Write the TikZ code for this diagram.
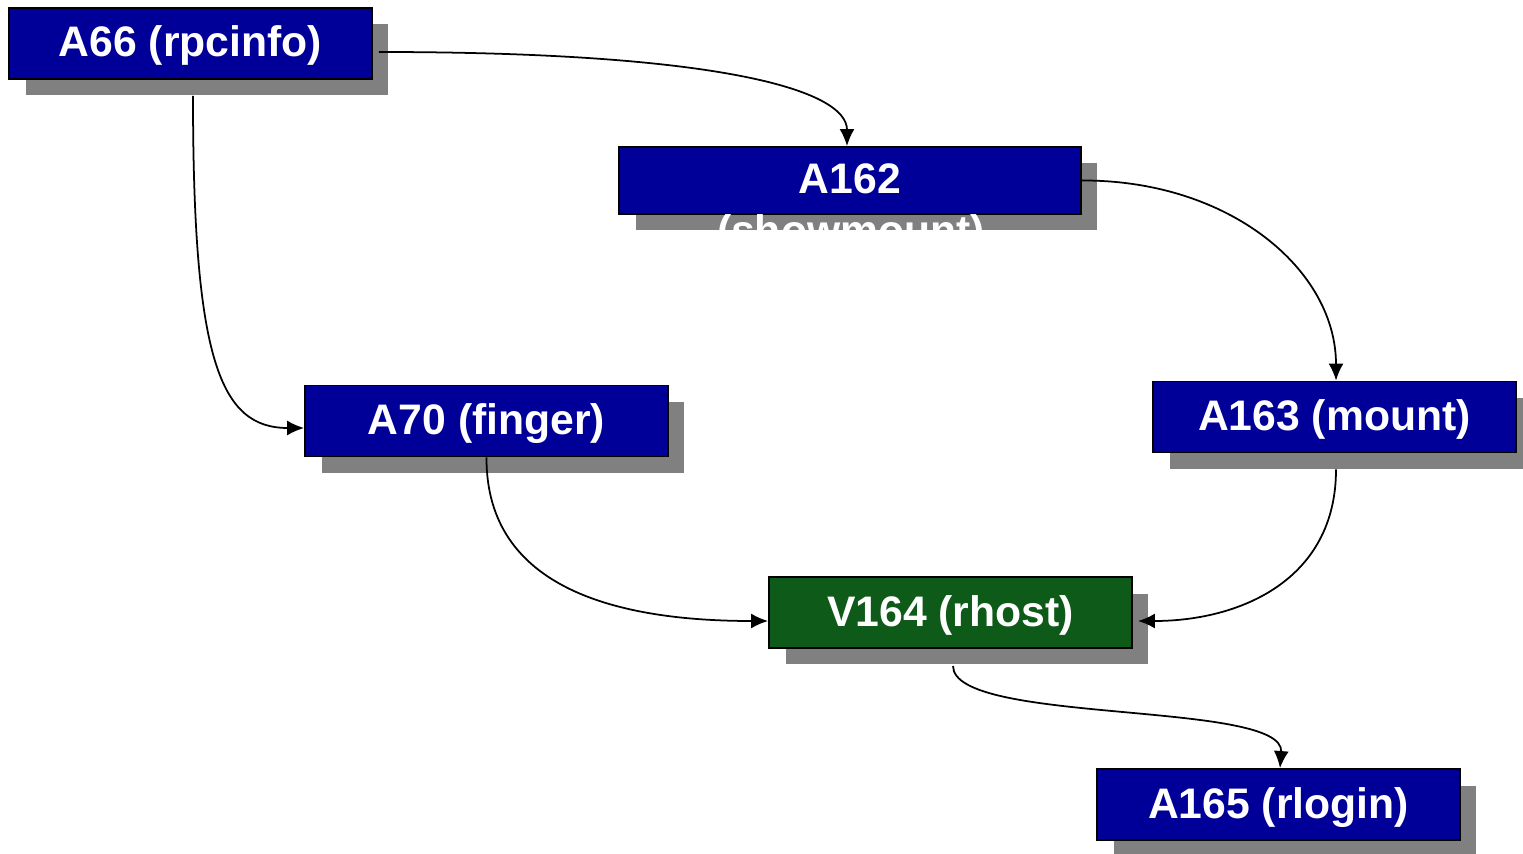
\documentclass[tikz,border=0pt]{standalone}
\usepackage{fontspec}
\setmainfont{Liberation Sans}
\usetikzlibrary{shadows,arrows.meta}
\definecolor{nodeblue}{HTML}{000099}
\definecolor{nodegreen}{HTML}{0E5A18}
\definecolor{shadowgray}{HTML}{808080}
\tikzset{
  box/.style={draw=black, line width=1.1pt, fill=nodeblue, text=white,
    font=\fontsize{24.3}{28}\selectfont\bfseries,
    minimum width=7.26cm, minimum height=1.42cm, inner sep=0pt,
    text height=0.70cm, text depth=0.16cm,
    drop shadow={shadow xshift=0.33cm, shadow yshift=-0.33cm, fill=shadowgray, opacity=1}},
  link/.style={line width=1pt, -{Latex[length=0.34cm,width=0.3cm]}}
}
\begin{document}
\begin{tikzpicture}[x=0.02cm, y=-0.02cm]
\useasboundingbox (0,0) rectangle (1523,854);
\node[box] (a66) at (190.5,43.5) {A66 (rpcinfo)};
\node[box, minimum width=9.24cm, minimum height=1.34cm] (a162) at (850,180.5) {A162};
\node[text=white, font=\fontsize{24.3}{28}\selectfont\bfseries, anchor=base, inner sep=0pt] (a162b) at (851,246) {(showmount)};
\node[box] (a70) at (486.5,421) {A70 (finger)};
\node[box] (a163) at (1334.5,417) {A163 (mount)};
\node[box, fill=nodegreen] (v164) at (950.5,612.5) {V164 (rhost)};
\node[box] (a165) at (1278.5,804.5) {A165 (rlogin)};
% attack steps
\draw[link] ([shift={(6,8.5)}]a66.east) .. controls (720,52) and (847,90) .. ([shift={(-3,0)}]a162.north);
\draw[link] ([shift={(2.5,16)}]a66.south) .. controls (193,360) and (220,428) .. ([shift={(0,7)}]a70.west);
\draw[link] (a162.east) .. controls (1230,180) and (1336,270) .. ([shift={(1.5,0)}]a163.north);
\draw[link] (a70.south) .. controls (486,590) and (620,621) .. ([shift={(0,8.5)}]v164.west);
\draw[link] ([shift={(1.5,16)}]a163.south) .. controls (1336,580) and (1240,621) .. ([shift={(5,8.5)}]v164.east);
\draw[link] ([shift={(2.5,17)}]v164.south) .. controls (953,725) and (1285,700) .. ([shift={(1.5,0)}]a165.north);
\end{tikzpicture}
\end{document}
